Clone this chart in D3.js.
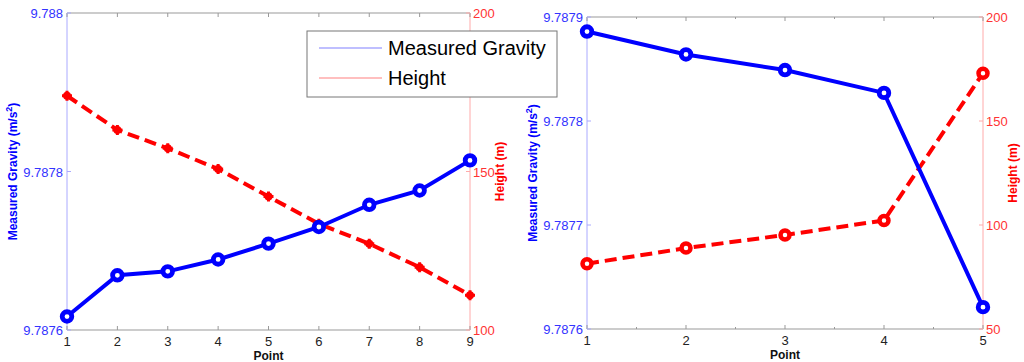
<!DOCTYPE html>
<html lang="en">
<head>
    <meta charset="UTF-8">
    <title>Measured Gravity and Height</title>
    <style>
        body {
            margin: 0;
            background-color: #ffffff;
        }
        svg {
            display: block;
            font-family: "Liberation Sans", Arial, sans-serif;
        }
        .tick-label {
            font-size: 13px;
        }
        .axis-title {
            font-size: 12px;
            font-weight: bold;
        }
    </style>
</head>
<body>
    <script src="https://d3js.org/d3.v7.min.js"></script>
    <script>
        const width = 1024;
        const height = 362;

        // left chart: nine points
        const pointsA = [1, 2, 3, 4, 5, 6, 7, 8, 9];
        const gravityA = [9.787617, 9.787669, 9.787674, 9.787689, 9.787709, 9.787730, 9.787758, 9.787776, 9.787814];
        const heightA = [173.9, 163.1, 157.3, 150.8, 142.1, 133.5, 127.2, 119.8, 111.0];
        const gravityTicksA = [9.7876, 9.7878, 9.788];
        const heightTicksA = [100, 150, 200];

        // right chart: five points
        const pointsB = [1, 2, 3, 4, 5];
        const gravityB = [9.787886, 9.787864, 9.787849, 9.787827, 9.787621];
        const heightB = [81.4, 88.9, 95.2, 102.2, 173.0];
        const gravityTicksB = [9.7876, 9.7877, 9.7878, 9.7879];
        const heightTicksB = [50, 100, 150, 200];

        const legendLabels = ["Measured Gravity", "Height"];

        const blue = "#0000ff";
        const red = "#ff0000";

        const svg = d3.select("body")
            .append("svg")
            .attr("width", width)
            .attr("height", height);

        const drawPanel = (cfg) => {
            const g = svg.append("g");
            const x = d3.scaleLinear().domain(d3.extent(cfg.points)).range([cfg.left, cfg.right]);
            const yG = d3.scaleLinear().domain(cfg.gDomain).range([cfg.bottom, cfg.top]);
            const yH = d3.scaleLinear().domain(cfg.hDomain).range([cfg.bottom, cfg.top]);

            // frame: top and bottom gray, sides coloured
            g.append("line").attr("x1", cfg.left).attr("x2", cfg.right).attr("y1", cfg.top).attr("y2", cfg.top)
                .attr("stroke", "#999").attr("stroke-width", 1);
            g.append("line").attr("x1", cfg.left).attr("x2", cfg.right).attr("y1", cfg.bottom).attr("y2", cfg.bottom)
                .attr("stroke", "#999").attr("stroke-width", 1);
            g.append("line").attr("x1", cfg.left).attr("x2", cfg.left).attr("y1", cfg.top).attr("y2", cfg.bottom)
                .attr("stroke", "#aaaaff").attr("stroke-width", 1);
            g.append("line").attr("x1", cfg.right).attr("x2", cfg.right).attr("y1", cfg.top).attr("y2", cfg.bottom)
                .attr("stroke", "#ffaaaa").attr("stroke-width", 1);

            // x ticks (inward, top and bottom)
            const xTicks = cfg.points.slice();
            g.selectAll(".xt-b").data(xTicks).enter().append("line")
                .attr("x1", d => x(d)).attr("x2", d => x(d))
                .attr("y1", cfg.bottom).attr("y2", cfg.bottom - 4)
                .attr("stroke", "#999");
            g.selectAll(".xt-t").data(xTicks).enter().append("line")
                .attr("x1", d => x(d)).attr("x2", d => x(d))
                .attr("y1", cfg.top).attr("y2", cfg.top + 4)
                .attr("stroke", "#999");
            if (cfg.minor) {
                const minor = d3.range(xTicks.length - 1).map(i => xTicks[i] + 0.5);
                g.selectAll(".xm-b").data(minor).enter().append("line")
                    .attr("x1", d => x(d)).attr("x2", d => x(d))
                    .attr("y1", cfg.bottom).attr("y2", cfg.bottom - 2)
                    .attr("stroke", "#999");
                g.selectAll(".xm-t").data(minor).enter().append("line")
                    .attr("x1", d => x(d)).attr("x2", d => x(d))
                    .attr("y1", cfg.top).attr("y2", cfg.top + 2)
                    .attr("stroke", "#999");
            }
            g.selectAll(".xl").data(xTicks).enter().append("text")
                .attr("class", "tick-label")
                .attr("x", d => x(d)).attr("y", cfg.bottom + 16)
                .attr("text-anchor", "middle")
                .attr("fill", "#222")
                .text(d => d);

            // left axis ticks
            g.selectAll(".gl").data(cfg.gTicks).enter().append("line")
                .attr("x1", cfg.left).attr("x2", cfg.left + 4)
                .attr("y1", d => yG(d)).attr("y2", d => yG(d))
                .attr("stroke", "#aaaaff");
            g.selectAll(".gt").data(cfg.gTicks).enter().append("text")
                .attr("class", "tick-label")
                .attr("x", cfg.left - 4).attr("y", d => yG(d) + 5)
                .attr("text-anchor", "end")
                .attr("fill", "#3333ff")
                .text(d => d3.format(".5~f")(d));

            // right axis ticks
            g.selectAll(".hl").data(cfg.hTicks).enter().append("line")
                .attr("x1", cfg.right).attr("x2", cfg.right - 4)
                .attr("y1", d => yH(d)).attr("y2", d => yH(d))
                .attr("stroke", "#ffaaaa");
            g.selectAll(".ht").data(cfg.hTicks).enter().append("text")
                .attr("class", "tick-label")
                .attr("x", cfg.right + 3).attr("y", d => yH(d) + 5)
                .attr("fill", "#ff3333")
                .text(d => d);

            // axis titles
            const midY = (cfg.top + cfg.bottom) / 2;
            const gTitle = g.append("text")
                .attr("class", "axis-title")
                .attr("transform", `translate(${cfg.left - 50},${midY}) rotate(-90)`)
                .attr("text-anchor", "middle")
                .attr("fill", blue);
            gTitle.append("tspan").text("Measured Gravity (m/s");
            gTitle.append("tspan").attr("dy", -5).attr("font-size", 9).text("2");
            gTitle.append("tspan").attr("dy", 5).text(")");

            g.append("text")
                .attr("class", "axis-title")
                .attr("transform", `translate(${cfg.right + 34},${midY}) rotate(-90)`)
                .attr("text-anchor", "middle")
                .attr("fill", red)
                .text("Height (m)");

            g.append("text")
                .attr("class", "axis-title")
                .attr("x", (cfg.left + cfg.right) / 2).attr("y", cfg.bottom + 30)
                .attr("text-anchor", "middle")
                .attr("fill", "#111")
                .attr("font-size", 13)
                .text("Point");

            // height series (dashed red)
            const hLine = d3.line().x((d, i) => x(cfg.points[i])).y(d => yH(d));
            g.append("path")
                .datum(cfg.hValues)
                .attr("d", hLine)
                .attr("fill", "none")
                .attr("stroke", red)
                .attr("stroke-width", 4)
                .attr("stroke-dasharray", "12,6");
            if (cfg.hOpen) {
                g.selectAll(".hm").data(cfg.hValues).enter().append("circle")
                    .attr("cx", (d, i) => x(cfg.points[i])).attr("cy", d => yH(d))
                    .attr("r", 4.5)
                    .attr("fill", "#fff")
                    .attr("stroke", red)
                    .attr("stroke-width", 4.5);
            } else {
                const hm = g.selectAll(".hm").data(cfg.hValues).enter().append("g")
                    .attr("transform", (d, i) => `translate(${x(cfg.points[i])},${yH(d)})`);
                hm.append("circle").attr("r", 4).attr("fill", red);
                hm.append("path").attr("d", "M-5,0H5M0,-5V5").attr("stroke", red).attr("stroke-width", 3);
            }

            // gravity series (solid blue)
            const gLine = d3.line().x((d, i) => x(cfg.points[i])).y(d => yG(d));
            g.append("path")
                .datum(cfg.gValues)
                .attr("d", gLine)
                .attr("fill", "none")
                .attr("stroke", blue)
                .attr("stroke-width", 4);
            g.selectAll(".gm").data(cfg.gValues).enter().append("circle")
                .attr("cx", (d, i) => x(cfg.points[i])).attr("cy", d => yG(d))
                .attr("r", 4.8)
                .attr("fill", "#fff")
                .attr("stroke", blue)
                .attr("stroke-width", 4.8);
        };

        drawPanel({
            points: pointsA, gValues: gravityA, hValues: heightA,
            gDomain: [9.7876, 9.788], hDomain: [100, 200],
            gTicks: gravityTicksA, hTicks: heightTicksA,
            left: 67, right: 470, top: 13, bottom: 330,
            minor: false, hOpen: false
        });

        drawPanel({
            points: pointsB, gValues: gravityB, hValues: heightB,
            gDomain: [9.7876, 9.7879], hDomain: [50, 200],
            gTicks: gravityTicksB, hTicks: heightTicksB,
            left: 587, right: 983, top: 17, bottom: 329,
            minor: true, hOpen: true
        });

        // legend sits on top of both panels
        const legend = svg.append("g");
        legend.append("rect")
            .attr("x", 307).attr("y", 31)
            .attr("width", 250).attr("height", 66)
            .attr("fill", "#fff")
            .attr("stroke", "#777")
            .attr("stroke-width", 1);
        const legendColors = ["#aaaaff", "#ffaaaa"];
        legendLabels.forEach((label, i) => {
            const ly = 48 + i * 30;
            legend.append("line")
                .attr("x1", 319).attr("x2", 382).attr("y1", ly).attr("y2", ly)
                .attr("stroke", legendColors[i]).attr("stroke-width", 1.5);
            legend.append("text")
                .attr("x", 388).attr("y", ly + 7)
                .attr("font-size", 20)
                .attr("fill", "#000")
                .text(label);
        });
    </script>
</body>
</html>
